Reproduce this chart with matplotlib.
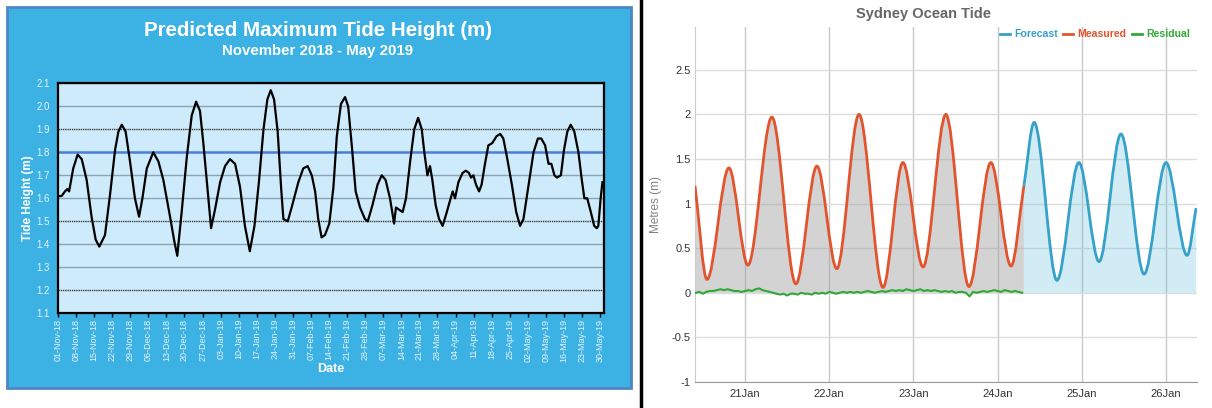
import matplotlib
matplotlib.use("Agg")
import matplotlib.pyplot as plt
import matplotlib.dates as mdates
from matplotlib.patches import Rectangle, PathPatch
from matplotlib.path import Path
from matplotlib.lines import Line2D
import pandas as pd

plt.rcParams['font.family'] = ['Liberation Sans', 'DejaVu Sans']

# ---------------- Left chart data (daily predicted maximum tide) ----------------
left_start = "2018-11-01"
left_day = [0.1, 1.4, 2.7, 3.6, 4.3, 5.9, 7.6, 9.2, 11.1, 13.0, 14.6, 16.0, 18.2, 20.1, 22.1, 23.4,
            24.7, 26.2, 27.9, 29.8, 31.4, 32.7, 34.4, 36.9, 38.9, 40.8, 43.4, 45.1, 46.2, 47.9, 49.9,
            51.8, 53.5, 55.0, 56.3, 58.0, 59.3, 60.8, 62.8, 64.7, 66.6, 68.6, 70.5, 72.4, 74.3, 76.1,
            77.9, 79.6, 81.1, 82.4, 83.7, 85.1, 86.4, 87.3, 89.0, 90.5, 93.1, 95.0, 96.7, 98.3, 99.6,
            100.8, 102.1, 103.4, 105.1, 106.7, 108.0, 109.6, 111.2, 112.4, 113.8, 115.3, 117.0, 118.9,
            120.0, 121.8, 123.8, 125.4, 126.9, 128.6, 130.2, 130.9, 132.2, 133.5, 134.8, 136.4, 138.0,
            139.5, 140.9, 141.9, 143.1, 144.1, 145.0, 146.3, 147.6, 149.0, 150.6, 152.1, 152.9, 153.8,
            155.1, 156.7, 158.0, 159.2, 160.0, 160.9, 161.9, 163.1, 164.1, 165.4, 166.7, 168.2, 169.9,
            171.3, 172.5, 173.9, 175.8, 177.5, 179.0, 180.3, 182.2, 184.2, 185.9, 187.2, 188.7, 190.0,
            191.1, 192.3, 193.3, 194.8, 196.0, 197.3, 198.6, 200.0, 201.6, 202.9, 203.9, 205.0, 206.4,
            207.7, 208.7, 209.3, 210.2, 210.9]
left_height = [1.61, 1.61, 1.63, 1.64, 1.63, 1.73, 1.79, 1.77, 1.68, 1.52, 1.42, 1.39, 1.44, 1.61, 1.81, 1.89,
               1.92, 1.89, 1.76, 1.60, 1.52, 1.60, 1.73, 1.80, 1.76, 1.68, 1.52, 1.41, 1.35, 1.54, 1.78,
               1.96, 2.02, 1.98, 1.84, 1.63, 1.47, 1.55, 1.67, 1.74, 1.77, 1.75, 1.65, 1.48, 1.37, 1.48,
               1.68, 1.90, 2.03, 2.07, 2.03, 1.89, 1.65, 1.51, 1.50, 1.56, 1.67, 1.73, 1.74, 1.70, 1.63,
               1.51, 1.43, 1.44, 1.49, 1.65, 1.87, 2.01, 2.04, 2.00, 1.83, 1.63, 1.56, 1.51,
               1.50, 1.57, 1.66, 1.70, 1.68, 1.60, 1.49, 1.56, 1.55, 1.54, 1.60, 1.76, 1.90,
               1.95, 1.90, 1.80, 1.70, 1.74, 1.68, 1.57, 1.51, 1.48, 1.54, 1.60, 1.63, 1.60,
               1.67, 1.71, 1.72, 1.71, 1.69, 1.70, 1.66, 1.63, 1.66, 1.75, 1.83, 1.84, 1.87,
               1.88, 1.86, 1.78, 1.66, 1.54, 1.48, 1.51, 1.65, 1.80, 1.86, 1.86, 1.83, 1.75,
               1.75, 1.70, 1.69, 1.70, 1.81, 1.89, 1.92, 1.89, 1.80, 1.68, 1.60, 1.60, 1.54,
               1.48, 1.47, 1.48, 1.60, 1.67]
left_reference_level = 1.8
left_yticks = [1.1, 1.2, 1.3, 1.4, 1.5, 1.6, 1.7, 1.8, 1.9, 2.0, 2.1]

# ---------------- Right chart data (Sydney Ocean Tide) ----------------
measured_time = ["2019-01-20 09:45", "2019-01-20 13:10", "2019-01-20 19:25", "2019-01-21 00:50",
                 "2019-01-21 07:40", "2019-01-21 14:30", "2019-01-21 20:30", "2019-01-22 02:10",
                 "2019-01-22 08:30", "2019-01-22 15:20", "2019-01-22 21:00", "2019-01-23 02:45",
                 "2019-01-23 09:15", "2019-01-23 15:50", "2019-01-23 22:05", "2019-01-24 03:50",
                 "2019-01-24 07:30"]
measured_level = [1.20, 0.15, 1.40, 0.31, 1.97, 0.10, 1.42, 0.27, 2.00, 0.06, 1.46, 0.29, 2.00,
                  0.07, 1.46, 0.30, 1.20]
forecast_time = ["2019-01-24 07:30", "2019-01-24 10:25", "2019-01-24 16:55", "2019-01-24 23:10",
                 "2019-01-25 04:55", "2019-01-25 11:10", "2019-01-25 17:45", "2019-01-26 00:00",
                 "2019-01-26 06:00", "2019-01-26 08:35"]
forecast_level = [1.20, 1.91, 0.14, 1.46, 0.35, 1.78, 0.21, 1.46, 0.42, 0.95]
residual_start = "2019-01-20 10:00"
residual_level = [0.00, 0.01, -0.01, 0.01, 0.02, 0.02,
                  0.03, 0.04, 0.03, 0.04, 0.03,
                  0.02, 0.02, 0.01, 0.02,
                  0.03, 0.02, 0.04, 0.05, 0.03, 0.02,
                  0.01, 0.00, -0.01, -0.02, -0.01, -0.03,
                  -0.01, -0.01, -0.02, 0.00, -0.01, -0.01, -0.02, 0.00,
                  -0.01, 0.00, -0.01, 0.01, 0.00, -0.01, 0.00, 0.01, 0.00, 0.01, 0.00,
                  0.01, 0.00, 0.01, 0.02, 0.01, 0.00, 0.01, 0.02, 0.01, 0.02, 0.03, 0.02, 0.03,
                  0.02, 0.04, 0.03, 0.02, 0.03, 0.04, 0.02, 0.03, 0.02, 0.03, 0.02, 0.01,
                  0.02, 0.01, 0.02, 0.00, 0.01, 0.01, 0.00, -0.04, 0.01, 0.00,
                  0.01, 0.02, 0.01, 0.02, 0.03, 0.02, 0.01, 0.03, 0.02, 0.01, 0.02, 0.01, 0.00]
right_yticks = [-1, -0.5, 0, 0.5, 1, 1.5, 2, 2.5]
right_xlim = ("2019-01-20 09:45", "2019-01-26 08:50")

# ---------------- Figure ----------------
W, H = 1212, 408
fig = plt.figure(figsize=(W / 100, H / 100), dpi=100)
fig.patch.set_facecolor('white')

def fx(px):
    return px / W

def fy(py):
    return 1 - py / H

# blue panel of left chart
fig.patches.append(Rectangle((fx(7), fy(388)), fx(631) - fx(7), fy(7) - fy(388),
                             transform=fig.transFigure, facecolor='#3cb1e4',
                             edgecolor='#4f86c4', linewidth=2, zorder=-5))
# black divider
fig.lines.append(Line2D([fx(641), fx(641)], [0, 1], transform=fig.transFigure,
                        color='black', linewidth=2.5, zorder=-4))

# ---------------- Left chart ----------------
axL = fig.add_axes([fx(58), fy(313.3), fx(604) - fx(58), fy(83.3) - fy(313.3)])
axL.set_facecolor('#cdebfb')
ldates = pd.Timestamp(left_start) + pd.to_timedelta(left_day, unit='D')
for v in left_yticks:
    if abs(v - 1.8) < 1e-9:
        continue
    if v in (1.2, 1.5, 1.9):
        axL.axhline(v, color='#3a3a3a', linewidth=1.0, linestyle=(0, (1, 0.6)), zorder=1)
    else:
        axL.axhline(v, color='#8fa3b3', linewidth=1.0, zorder=1)
axL.axhline(left_reference_level, color='#4a7fd1', linewidth=1.8, zorder=2)
axL.plot(ldates, left_height, color='black', linewidth=1.6, zorder=3)
axL.set_ylim(1.1, 2.1)
axL.set_xlim(pd.Timestamp(left_start), pd.Timestamp(left_start) + pd.Timedelta(days=211.5))
axL.set_yticks(left_yticks)
axL.set_yticklabels([f"{v:.1f}" for v in left_yticks])
wk = pd.date_range(left_start, "2019-05-30", freq="7D")
axL.set_xticks(wk)
axL.xaxis.set_major_formatter(mdates.DateFormatter('%d-%b-%y'))
axL.tick_params(axis='x', colors='black', labelcolor='#e6f4fc', labelsize=6.5,
                length=3, width=1, pad=1, labelrotation=90)
axL.tick_params(axis='y', length=0, labelcolor='#e6f4fc', labelsize=7, pad=6)
for s in axL.spines.values():
    s.set_color('black')
    s.set_linewidth(1.6)
fig.text(fx(28), fy(198), 'Tide Height (m)', color='white', fontsize=8.5, fontweight='bold',
         rotation=90, ha='center', va='center')
fig.text(fx(331), fy(369), 'Date', color='white', fontsize=9, fontweight='bold',
         ha='center', va='center')
fig.text(fx(318), fy(30), 'Predicted Maximum Tide Height (m)', color='white', fontsize=14.8,
         fontweight='bold', ha='center', va='center')
fig.text(fx(318), fy(51), 'November 2018 - May 2019', color='white', fontsize=10.8,
         fontweight='bold', ha='center', va='center')

# ---------------- Right chart ----------------
axR = fig.add_axes([fx(695), fy(382), fx(1197) - fx(695), fy(27) - fy(382)])
axR.set_facecolor('white')

def tide_path(times, vals, close=False):
    t = mdates.date2num(pd.to_datetime(times))
    n = len(t)
    slopes = []
    for i in range(n):
        if i == 0:
            slopes.append((vals[1] - vals[0]) / (t[1] - t[0]))
        elif i == n - 1:
            slopes.append((vals[-1] - vals[-2]) / (t[-1] - t[-2]))
        else:
            slopes.append(0.0)
    verts = [(t[0], vals[0])]
    codes = [Path.MOVETO]
    for i in range(n - 1):
        dt = t[i + 1] - t[i]
        verts += [(t[i] + dt / 3, vals[i] + slopes[i] * dt / 3),
                  (t[i + 1] - dt / 3, vals[i + 1] - slopes[i + 1] * dt / 3),
                  (t[i + 1], vals[i + 1])]
        codes += [Path.CURVE4] * 3
    if close:
        verts += [(t[-1], 0), (t[0], 0), (t[0], vals[0])]
        codes += [Path.LINETO, Path.LINETO, Path.CLOSEPOLY]
    return Path(verts, codes)

rtimes = pd.date_range(residual_start, periods=len(residual_level), freq='h')
axR.plot(rtimes, residual_level, color='#2fa836', linewidth=1.5, zorder=4)

axR.add_patch(PathPatch(tide_path(measured_time, measured_level, True),
                        facecolor='#9f9f9f', alpha=0.45, edgecolor='none', zorder=2))
axR.add_patch(PathPatch(tide_path(forecast_time, forecast_level, True),
                        facecolor='#5fbde0', alpha=0.28, edgecolor='none', zorder=2))
axR.add_patch(PathPatch(tide_path(measured_time, measured_level), facecolor='none',
                        edgecolor='#e2542e', linewidth=2.0, zorder=5))
axR.add_patch(PathPatch(tide_path(forecast_time, forecast_level), facecolor='none',
                        edgecolor='#36a2c9', linewidth=2.0, zorder=5))

axR.set_xlim(pd.Timestamp(right_xlim[0]), pd.Timestamp(right_xlim[1]))
axR.set_ylim(-1, 2.98)
axR.set_yticks(right_yticks)
axR.set_yticklabels(['-1', '-0.5', '0', '0.5', '1', '1.5', '2', '2.5'])
axR.xaxis.set_major_locator(mdates.DayLocator())
axR.xaxis.set_major_formatter(mdates.DateFormatter('%d%b'))
axR.grid(True, axis='y', color='#dcdcdc', linewidth=1.0, zorder=1)
axR.grid(True, axis='x', color='#c8c8c8', linewidth=1.0, zorder=1)
axR.set_axisbelow(True)
axR.tick_params(axis='both', length=0, labelcolor='#333333', labelsize=8)
axR.tick_params(axis='y', pad=3)
axR.tick_params(axis='x', pad=5)
for k in ('top', 'right'):
    axR.spines[k].set_visible(False)
axR.spines['left'].set_color('#cccccc')
axR.spines['bottom'].set_color('#999999')
axR.set_ylabel('Metres (m)', color='#808080', fontsize=8.5, labelpad=7)

fig.text(fx(923), fy(14), 'Sydney Ocean Tide', color='#666666', fontsize=10.5,
         fontweight='bold', ha='center', va='center')
legend_items = [(1000, 1014, 'Forecast', '#36a2c9'),
                (1063, 1077, 'Measured', '#e2542e'),
                (1132, 1146, 'Residual', '#32a83a')]
for dx, tx, lab, col in legend_items:
    fig.lines.append(Line2D([fx(dx), fx(dx + 10)], [fy(34), fy(34)], transform=fig.transFigure,
                            color=col, linewidth=2))
    fig.text(fx(tx), fy(34), lab, color=col, fontsize=7.6, fontweight='bold',
             ha='left', va='center')

fig.savefig('out.png', dpi=100, facecolor='white')
